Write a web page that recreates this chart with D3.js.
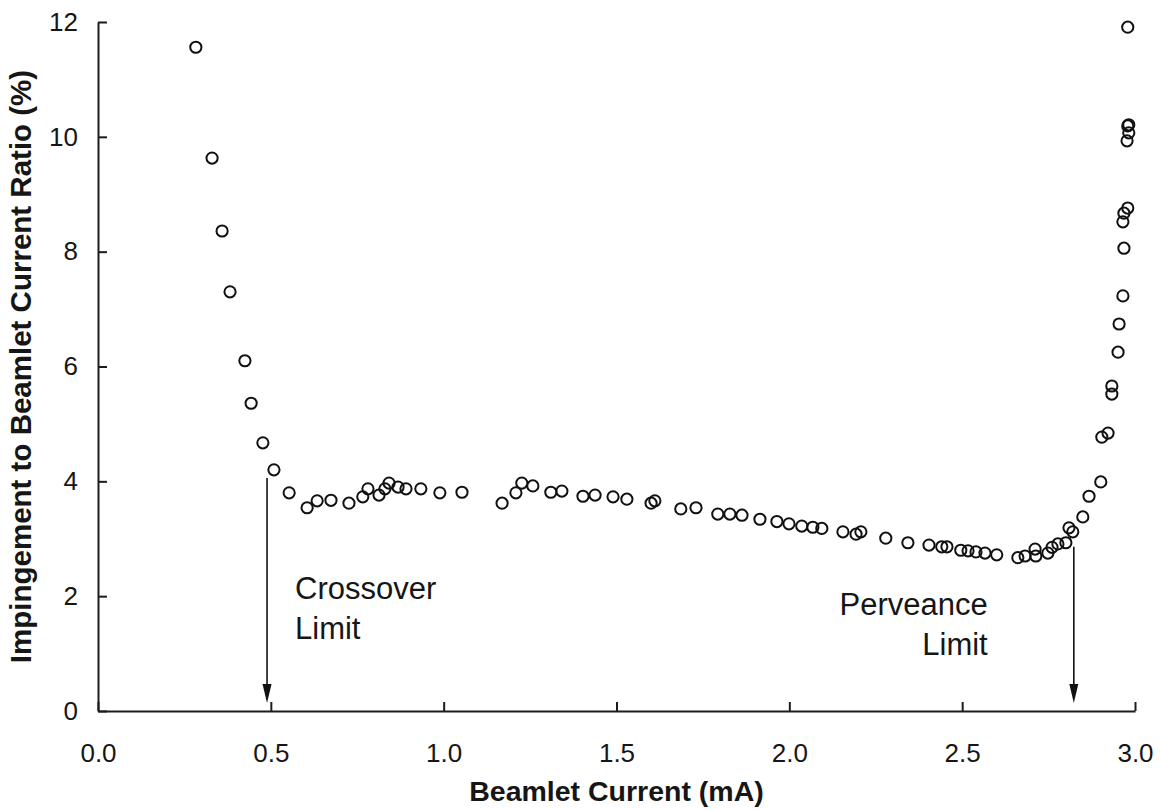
<!DOCTYPE html>
<html>
<head>
<meta charset="utf-8">
<script src="https://cdn.jsdelivr.net/npm/d3@7/dist/d3.min.js"></script>
<style>
  html, body { margin: 0; padding: 0; background: #ffffff; }
  svg { display: block; }
  text { font-family: Arial, "Liberation Sans", sans-serif; fill: #161616; }
</style>
</head>
<body>
<svg id="chart" width="1161" height="810"></svg>
<script>
// Beamlet current (mA) and impingement-to-beamlet current ratio (%)
const beamletCurrent = [
  0.283, 0.330, 0.359, 0.382, 0.425, 0.443, 0.477, 0.509, 0.553, 0.605,
  0.634, 0.674, 0.726, 0.766, 0.781, 0.813, 0.830, 0.842, 0.868, 0.891,
  0.934, 0.989, 1.053, 1.169, 1.209, 1.226, 1.258, 1.310, 1.342, 1.403,
  1.438, 1.490, 1.530, 1.600, 1.611, 1.686, 1.730, 1.793, 1.828, 1.863,
  1.915, 1.964, 1.999, 2.036, 2.068, 2.094, 2.155, 2.193, 2.207, 2.279,
  2.343, 2.404, 2.441, 2.456, 2.496, 2.517, 2.540, 2.566, 2.600, 2.661,
  2.682, 2.711, 2.713, 2.748, 2.760, 2.777, 2.800, 2.809, 2.820, 2.849,
  2.867, 2.901, 2.904, 2.922, 2.933, 2.933, 2.951, 2.954, 2.965, 2.968,
  2.965, 2.968, 2.979, 2.977, 2.982, 2.979, 2.982, 2.979
];
const impingementRatio = [
  11.56, 9.63, 8.36, 7.30, 6.10, 5.36, 4.67, 4.20, 3.80, 3.54,
  3.66, 3.67, 3.62, 3.73, 3.87, 3.76, 3.87, 3.97, 3.90, 3.87,
  3.87, 3.80, 3.81, 3.62, 3.80, 3.97, 3.92, 3.81, 3.83, 3.74,
  3.76, 3.73, 3.69, 3.62, 3.66, 3.52, 3.54, 3.43, 3.43, 3.41,
  3.34, 3.30, 3.26, 3.22, 3.20, 3.18, 3.12, 3.08, 3.12, 3.01,
  2.93, 2.89, 2.86, 2.86, 2.80, 2.79, 2.77, 2.75, 2.72, 2.67,
  2.70, 2.82, 2.70, 2.75, 2.85, 2.91, 2.93, 3.19, 3.12, 3.38,
  3.74, 3.99, 4.77, 4.84, 5.52, 5.66, 6.25, 6.74, 7.23, 8.06,
  8.52, 8.67, 8.76, 9.93, 10.07, 10.19, 10.21, 11.91
];

// Axis ticks
const xTicks = [0.0, 0.5, 1.0, 1.5, 2.0, 2.5, 3.0];
const yTicks = [0, 2, 4, 6, 8, 10, 12];

// Operating-limit annotations: arrow position, arrow start and text
const limitNames = ["Crossover", "Perveance"];
const limitCurrent = [0.489, 2.823];
const limitArrowTop = [4.06, 2.86];

const svg = d3.select("#chart");
const plot = { left: 98, right: 1135, top: 22, bottom: 711 };

const x = d3.scaleLinear().domain([0, 3]).range([plot.left, plot.right]);
const y = d3.scaleLinear().domain([0, 12]).range([plot.bottom, plot.top]);

const axisColor = "#1c1c1c";

// X axis with inward ticks
const xAxis = svg.append("g")
  .attr("transform", `translate(0,${plot.bottom})`)
  .call(d3.axisBottom(x).tickValues(xTicks).tickFormat(d3.format(".1f"))
    .tickSizeInner(-9).tickSizeOuter(0).tickPadding(33));

// Y axis with inward ticks
const yAxis = svg.append("g")
  .attr("transform", `translate(${plot.left},0)`)
  .call(d3.axisLeft(y).tickValues(yTicks).tickFormat(d3.format("d"))
    .tickSizeInner(-9).tickSizeOuter(0).tickPadding(20));

[xAxis, yAxis].forEach(g => {
  g.select(".domain").attr("stroke", axisColor).attr("stroke-width", 2);
  g.selectAll(".tick line").attr("stroke", axisColor).attr("stroke-width", 2);
  g.selectAll(".tick text")
    .attr("font-size", 26)
    .attr("font-family", 'Arial, "Liberation Sans", sans-serif')
    .attr("fill", "#1c1c1c");
});

// Axis titles
svg.append("text")
  .attr("x", (plot.left + plot.right) / 2)
  .attr("y", 801)
  .attr("text-anchor", "middle")
  .attr("font-size", 28.5)
  .attr("font-weight", "bold")
  .text("Beamlet Current (mA)");

svg.append("text")
  .attr("transform", `translate(31,${(plot.top + plot.bottom) / 2}) rotate(-90)`)
  .attr("text-anchor", "middle")
  .attr("font-size", 29.5)
  .attr("font-weight", "bold")
  .text("Impingement to Beamlet Current Ratio (%)");

// Limit arrows
const tipValue = 0.14;
limitCurrent.forEach((c, i) => {
  const cx = x(c);
  const tip = y(tipValue);
  svg.append("line")
    .attr("x1", cx).attr("x2", cx)
    .attr("y1", y(limitArrowTop[i])).attr("y2", tip - 10)
    .attr("stroke", "#111").attr("stroke-width", 1.6);
  svg.append("path")
    .attr("d", `M${cx - 4.5},${tip - 19} L${cx + 4.5},${tip - 19} L${cx},${tip} Z`)
    .attr("fill", "#111");
});

// Limit labels
const crossLabel = svg.append("text")
  .attr("font-size", 31)
  .attr("text-anchor", "start");
crossLabel.append("tspan").attr("x", x(0.570)).attr("y", y(1.95)).text(limitNames[0]);
crossLabel.append("tspan").attr("x", x(0.570)).attr("y", y(1.25)).text("Limit");

const pervLabel = svg.append("text")
  .attr("font-size", 31)
  .attr("text-anchor", "end");
pervLabel.append("tspan").attr("x", x(2.574)).attr("y", y(1.67)).text(limitNames[1]);
pervLabel.append("tspan").attr("x", x(2.574)).attr("y", y(0.975)).text("Limit");

// Measured points as open circles
svg.append("g")
  .selectAll("circle")
  .data(beamletCurrent.map((c, i) => [c, impingementRatio[i]]))
  .join("circle")
  .attr("cx", d => x(d[0]))
  .attr("cy", d => y(d[1]))
  .attr("r", 5.6)
  .attr("fill", "none")
  .attr("stroke", "#111")
  .attr("stroke-width", 2);
</script>
</body>
</html>
